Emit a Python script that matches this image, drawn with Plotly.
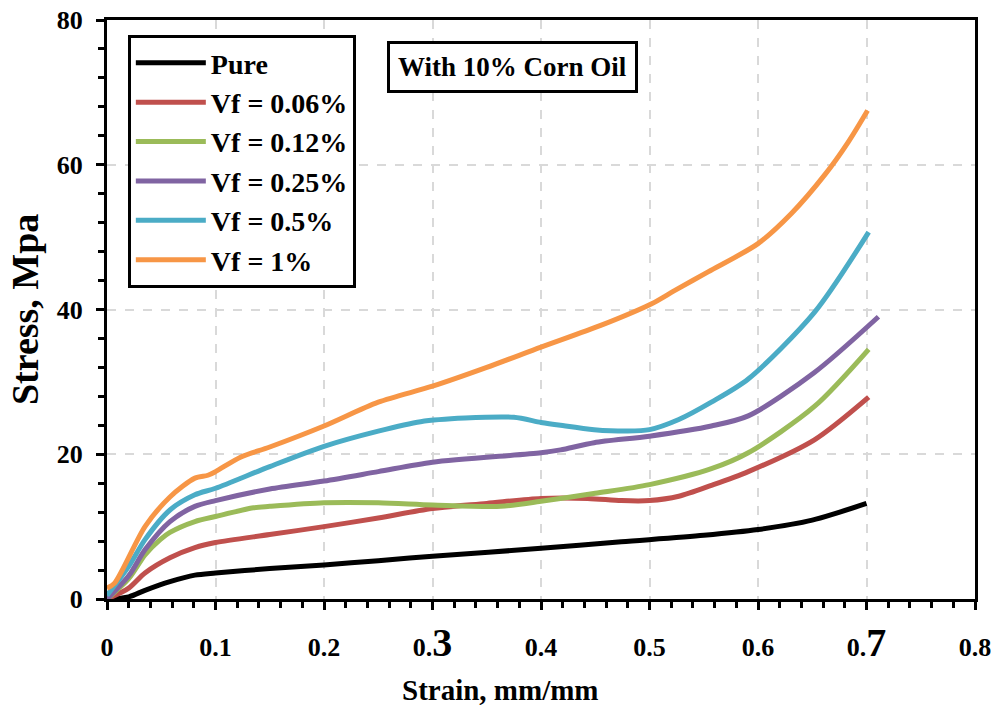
import plotly.graph_objects as go

# ---- data ----
series_names = ["Pure", "Vf = 0.06%", "Vf = 0.12%", "Vf = 0.25%", "Vf = 0.5%", "Vf = 1%"]
series_colors = ["#000000", "#C0504D", "#9BBB59", "#8064A2", "#4BACC6", "#F79646"]

pure_x = [0, 0.02, 0.035, 0.058, 0.081, 0.1, 0.15, 0.2, 0.25, 0.3, 0.4, 0.474, 0.55, 0.6, 0.65, 0.7]
pure_y = [0, 0.3, 1.2, 2.4, 3.3, 3.6, 4.2, 4.7, 5.3, 5.9, 7.0, 7.9, 8.8, 9.6, 10.9, 13.2]

vf006_x = [0, 0.02, 0.035, 0.058, 0.081, 0.1, 0.15, 0.2, 0.25, 0.3, 0.35, 0.4, 0.443, 0.474, 0.5, 0.527, 0.557, 0.591, 0.652, 0.702]
vf006_y = [0, 1.5, 3.6, 5.7, 7.1, 7.8, 8.9, 10.0, 11.2, 12.5, 13.2, 13.9, 13.9, 13.6, 13.6, 14.2, 15.7, 17.6, 22.0, 27.9]

vf012_x = [0, 0.02, 0.035, 0.049, 0.058, 0.081, 0.1, 0.135, 0.15, 0.2, 0.25, 0.3, 0.363, 0.4, 0.45, 0.5, 0.557, 0.591, 0.652, 0.702]
vf012_y = [0, 2.8, 6.1, 8.2, 9.2, 10.7, 11.4, 12.6, 12.8, 13.3, 13.3, 13.0, 12.8, 13.5, 14.6, 15.8, 18.0, 20.2, 26.6, 34.5]

vf025_x = [0, 0.02, 0.035, 0.058, 0.081, 0.1, 0.15, 0.2, 0.25, 0.3, 0.4, 0.418, 0.449, 0.5, 0.557, 0.591, 0.652, 0.711]
vf025_y = [0, 3.2, 6.8, 10.7, 12.8, 13.6, 15.2, 16.3, 17.6, 18.9, 20.2, 20.6, 21.6, 22.5, 23.9, 25.3, 31.3, 39.0]

vf05_x = [0, 0.02, 0.035, 0.058, 0.081, 0.1, 0.15, 0.2, 0.25, 0.289, 0.33, 0.375, 0.4, 0.418, 0.449, 0.48, 0.5, 0.527, 0.557, 0.591, 0.652, 0.702]
vf05_y = [0.5, 4.5, 8.2, 12.3, 14.4, 15.3, 18.3, 21.1, 23.2, 24.5, 25.0, 25.1, 24.4, 24.0, 23.4, 23.2, 23.4, 24.8, 27.2, 30.4, 39.6, 50.7]

vf1_x = [0, 0.007, 0.035, 0.058, 0.081, 0.093, 0.1, 0.123, 0.15, 0.2, 0.25, 0.3, 0.35, 0.4, 0.455, 0.502, 0.523, 0.554, 0.6, 0.631, 0.662, 0.683, 0.701]
vf1_y = [1.5, 2.2, 10.0, 14.1, 16.7, 17.1, 17.6, 19.6, 21.0, 23.9, 27.2, 29.4, 32.0, 34.8, 37.8, 40.8, 42.6, 45.2, 49.1, 53.3, 58.7, 63.1, 67.5]

x_tickvals = [0, 0.1, 0.2, 0.3, 0.4, 0.5, 0.6, 0.7, 0.8]
x_ticktext = ["0", "0.1", "0.2", "0.<span style='font-size:40px'>3</span>", "0.4", "0.5", "0.6",
              "0.<span style='font-size:40px'>7</span>", "0.8"]
y_tickvals = [0, 20, 40, 60, 80]
y_ticktext = ["0", "20", "40", "60", "80"]

x_title = "Strain, mm/mm"
y_title = "Stress, Mpa"
note_text = "With 10% Corn Oil"

xs = [pure_x, vf006_x, vf012_x, vf025_x, vf05_x, vf1_x]
ys = [pure_y, vf006_y, vf012_y, vf025_y, vf05_y, vf1_y]

FONT = "Liberation Serif"

fig = go.Figure()
for i, (name, color, x, y) in enumerate(zip(series_names, series_colors, xs, ys)):
    fig.add_trace(go.Scatter(
        x=x, y=y, name=name, mode="lines",
        line=dict(color=color, width=5, shape="spline", smoothing=0.8),
        legendgroup=f"g{i}",
    ))

fig.update_layout(
    width=994, height=713,
    margin=dict(l=107, r=19, t=20, b=114),
    paper_bgcolor="white", plot_bgcolor="white",
    font=dict(family=FONT, color="black", size=26, weight="bold"),
    showlegend=True,
    legend=dict(
        x=0.024, y=0.974, xanchor="left", yanchor="top",
        bgcolor="white", bordercolor="black", borderwidth=3,
        font=dict(family=FONT, size=28, color="black", weight="bold"),
        tracegroupgap=0, itemwidth=70,
    ),
    annotations=[
        dict(text=note_text, x=0.467, y=0.919, xref="paper", yref="paper",
             xanchor="center", yanchor="middle",
             showarrow=False, bgcolor="white", bordercolor="black", borderwidth=3, borderpad=8,
             font=dict(family=FONT, size=27, color="black", weight="bold")),
        dict(text=x_title, x=0.453, y=-0.157, xref="paper", yref="paper",
             xanchor="center", yanchor="middle", showarrow=False,
             font=dict(family=FONT, size=29, color="black", weight="bold")),
        dict(text=y_title, x=-0.095, y=0.5, xref="paper", yref="paper", textangle=-90,
             xanchor="center", yanchor="middle", showarrow=False,
             font=dict(family=FONT, size=38, color="black", weight="bold")),
    ],
)

common_axis = dict(
    tickmode="array",
    showline=True, linecolor="black", linewidth=3, mirror=True,
    ticks="outside", ticklen=8, tickwidth=3, tickcolor="black",
    showgrid=True, gridcolor="#d9d9d9", griddash="dash", gridwidth=1.5,
    zeroline=False, automargin=False, ticklabeloverflow="allow",
    tickfont=dict(family=FONT, size=26, weight="bold"),
)

fig.update_xaxes(
    range=[0, 0.8], tickvals=x_tickvals, ticktext=x_ticktext, ticklabelstandoff=15,
    minor=dict(dtick=0.02, tick0=0, ticks="outside", ticklen=6, tickwidth=3, tickcolor="black", showgrid=False),
    **common_axis,
)
fig.update_yaxes(
    range=[0, 80], tickvals=y_tickvals, ticktext=y_ticktext, ticklabelstandoff=8,
    minor=dict(dtick=4, tick0=0, ticks="outside", ticklen=6, tickwidth=3, tickcolor="black", showgrid=False),
    **common_axis,
)

# remove the browser's default 8px page margin so the 994x713 figure fills the window
fig.write_html("out.html", config={"displayModeBar": False},
               post_script="document.body.style.margin='0px';")
